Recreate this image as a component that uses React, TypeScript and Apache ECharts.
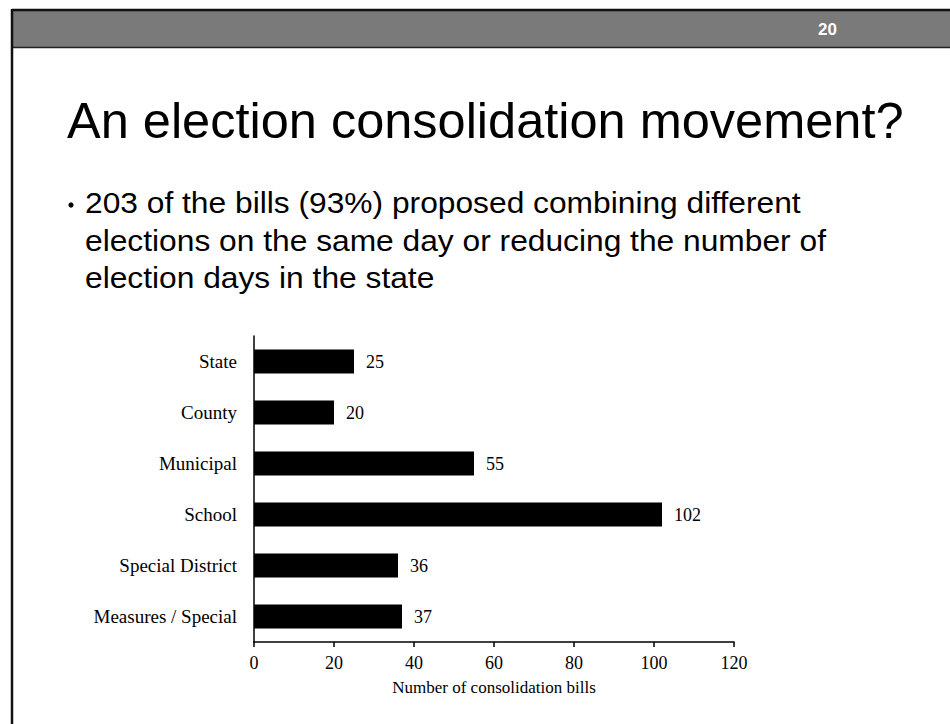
import React, { useEffect, useRef } from "react";
import * as echarts from "echarts";

// Election types and number of consolidation bills touching each
const categories = [
  "State",
  "County",
  "Municipal",
  "School",
  "Special District",
  "Measures / Special",
];
const billCounts = [25, 20, 55, 102, 36, 37];

const xTicks = { min: 0, max: 120, interval: 20 };
const xAxisTitle = "Number of consolidation bills";

const slideNumber = "20";
const slideTitle = "An election consolidation movement?";
const bulletLines = [
  "203 of the bills (93%) proposed combining different",
  "elections on the same day or reducing the number of",
  "election days in the state",
];

const SANS = "'Liberation Sans', Arial, Helvetica, sans-serif";
const SERIF = "'Liberation Serif', 'Times New Roman', serif";

export default function App() {
  const ref = useRef<HTMLDivElement>(null);

  useEffect(() => {
    if (!ref.current) return;
    const chart = echarts.init(ref.current, null, { renderer: "svg" });

    const titleSize = 50.5;
    const bulletSize = 29;
    const bulletStretch = 1.095;
    const bulletBaselines = [213, 250.5, 288];

    chart.setOption({
      animation: false,
      backgroundColor: "#ffffff",
      grid: { left: 254, right: 216, top: 336, bottom: 82, containLabel: false },
      xAxis: {
        type: "value",
        min: xTicks.min,
        max: xTicks.max,
        interval: xTicks.interval,
        name: xAxisTitle,
        nameLocation: "middle",
        nameGap: 37,
        nameTextStyle: { fontFamily: SERIF, fontSize: 17, color: "#000" },
        axisLine: { show: true, lineStyle: { color: "#000", width: 1.5 } },
        axisTick: { show: true, inside: false, length: 5, lineStyle: { color: "#000", width: 1.5 } },
        axisLabel: { fontFamily: SERIF, fontSize: 18, color: "#000", margin: 12 },
        splitLine: { show: false },
      },
      yAxis: {
        type: "category",
        inverse: true,
        data: categories,
        axisLine: { show: true, lineStyle: { color: "#000", width: 1.5 } },
        axisTick: { show: false },
        axisLabel: { fontFamily: SERIF, fontSize: 19, color: "#000", margin: 17 },
        splitLine: { show: false },
      },
      series: [
        {
          type: "bar",
          data: billCounts,
          barWidth: 24,
          itemStyle: { color: "#000" },
          label: {
            show: true,
            position: "right",
            distance: 12,
            fontFamily: SERIF,
            fontSize: 18,
            color: "#000",
          },
        },
      ],
      graphic: [
        // header band
        {
          type: "rect",
          shape: { x: 12, y: 10, width: 938, height: 38 },
          style: { fill: "#7a7a7a" },
          silent: true,
        },
        {
          type: "line",
          shape: { x1: 12, y1: 10, x2: 950, y2: 10 },
          style: { stroke: "#111", lineWidth: 2.5 },
        },
        {
          type: "line",
          shape: { x1: 12, y1: 47.5, x2: 950, y2: 47.5 },
          style: { stroke: "#222", lineWidth: 1.5 },
        },
        // slide left edge
        {
          type: "line",
          shape: { x1: 12, y1: 9, x2: 12, y2: 724 },
          style: { stroke: "#111", lineWidth: 2.5 },
        },
        {
          type: "text",
          x: 818,
          y: 29,
          style: {
            text: slideNumber,
            fontFamily: SANS,
            fontWeight: "bold",
            fontSize: 17,
            fill: "#fff",
            align: "left",
            verticalAlign: "middle",
          },
        },
        {
          type: "text",
          x: 67,
          y: 138 - titleSize * 0.3465,
          style: {
            text: slideTitle,
            fontFamily: SANS,
            fontSize: titleSize,
            fill: "#000",
            align: "left",
            verticalAlign: "middle",
          },
        },
        {
          type: "circle",
          shape: { cx: 71, cy: 205, r: 2.6 },
          style: { fill: "#000" },
        },
        ...bulletLines.map((line, i) => ({
          type: "text",
          x: 85,
          y: bulletBaselines[i] - bulletSize * 0.3465,
          scaleX: bulletStretch,
          style: {
            text: line,
            fontFamily: SANS,
            fontSize: bulletSize,
            fill: "#000",
            align: "left",
            verticalAlign: "middle",
          },
        })),
      ],
    });

    return () => chart.dispose();
  }, []);

  return (
    <div
      ref={ref}
      style={{ position: "absolute", left: 0, top: 0, width: 950, height: 724 }}
    />
  );
}
